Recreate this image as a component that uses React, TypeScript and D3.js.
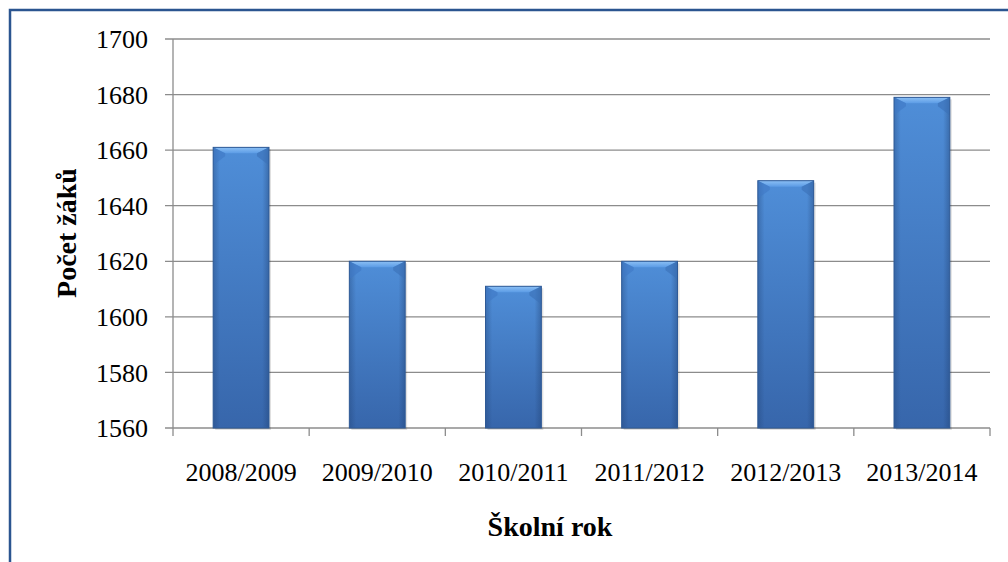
import React from "react";
import * as d3 from "d3";

const categories = ["2008/2009", "2009/2010", "2010/2011", "2011/2012", "2012/2013", "2013/2014"];
const values = [1661, 1620, 1611, 1620, 1649, 1679];
const yTicks = [1560, 1580, 1600, 1620, 1640, 1660, 1680, 1700];

export default function App() {
  const W = 1008, H = 562;
  const left = 173, right = 990, top = 39, bottom = 428;
  const x = d3.scaleBand<string>().domain(categories).range([left, right]).paddingInner(0.59).paddingOuter(0.295);
  const y = d3.scaleLinear().domain([1560, 1700]).range([bottom, top]);
  const bw = x.bandwidth();
  const step = x.step();
  const font = "'Liberation Serif', 'Times New Roman', serif";
  const fs = 26;
  const tfs = 28;
  return (
    <svg width={W} height={H} style={{ position: "absolute", left: 0, top: 0 }}>
      <defs>
        <linearGradient id="gv" x1="0" y1="0" x2="0" y2="1">
          <stop offset="0" stopColor="#4f8ed8" />
          <stop offset="1" stopColor="#3766ab" />
        </linearGradient>
        <linearGradient id="gh" x1="0" y1="0" x2="1" y2="0">
          <stop offset="0" stopColor="#1f3f70" stopOpacity="0.35" />
          <stop offset="0.12" stopColor="#1f3f70" stopOpacity="0" />
          <stop offset="0.88" stopColor="#1f3f70" stopOpacity="0" />
          <stop offset="1" stopColor="#1f3f70" stopOpacity="0.4" />
        </linearGradient>
        <linearGradient id="gtop" x1="0" y1="0" x2="0" y2="1">
          <stop offset="0" stopColor="#8cc0f5" />
          <stop offset="1" stopColor="#5b9be5" />
        </linearGradient>
      </defs>
      <rect x={0} y={0} width={W} height={H} fill="#fff" />
      <rect x={10} y={10} width={W + 20} height={H + 20} fill="none" stroke="#2b5590" strokeWidth={2.5} />
      {yTicks.map((t) => (
        <line key={t} x1={left - 8} x2={right} y1={y(t)} y2={y(t)} stroke="#8c8c8c" strokeWidth={1.3} />
      ))}
      <line x1={left} x2={left} y1={top} y2={bottom} stroke="#8c8c8c" strokeWidth={1.3} />
      {d3.range(categories.length + 1).map((i) => (
        <line key={i} x1={left + i * step} x2={left + i * step} y1={bottom} y2={bottom + 8} stroke="#8c8c8c" strokeWidth={1.3} />
      ))}
      {categories.map((c, i) => {
        const bx = x(c)!;
        const by = y(values[i]);
        const bh = bottom - by;
        const bev = 6;
        return (
          <g key={c}>
            <rect x={bx + 2} y={by + 2} width={bw} height={bh} fill="#000" opacity={0.12} />
            <rect x={bx} y={by} width={bw} height={bh} fill="url(#gv)" />
            <rect x={bx} y={by} width={bw} height={bh} fill="url(#gh)" />
            <path d={`M${bx},${by} L${bx + bw},${by} L${bx + bw - bev * 2},${by + bev} L${bx + bev * 2},${by + bev} Z`} fill="url(#gtop)" />
            <path d={`M${bx},${by} L${bx + bev * 2},${by + bev} L${bx + bev * 2},${by + bev + 3} L${bx},${by + bev + 12} Z`} fill="#3f78c4" opacity={0.6} />
            <path d={`M${bx + bw},${by} L${bx + bw - bev * 2},${by + bev} L${bx + bw - bev * 2},${by + bev + 3} L${bx + bw},${by + bev + 12} Z`} fill="#3a6fb6" opacity={0.6} />
            <rect x={bx} y={by} width={bw} height={bh} fill="none" stroke="#2f5a96" strokeWidth={1} />
          </g>
        );
      })}
      {yTicks.map((t) => (
        <text key={t} x={148} y={y(t)} dy="0.35em" textAnchor="end" fontFamily={font} fontSize={fs} fill="#000">
          {t}
        </text>
      ))}
      {categories.map((c) => (
        <text key={c} x={x(c)! + bw / 2} y={472} dy="0.35em" textAnchor="middle" fontFamily={font} fontSize={fs} fill="#000">
          {c}
        </text>
      ))}
      <text x={550} y={526} dy="0.35em" textAnchor="middle" fontFamily={font} fontSize={tfs} fontWeight="bold" fill="#000">
        Školní rok
      </text>
      <text transform={`translate(66,233) rotate(-90)`} dy="0.35em" textAnchor="middle" fontFamily={font} fontSize={tfs} fontWeight="bold" fill="#000">
        Počet žáků
      </text>
    </svg>
  );
}
